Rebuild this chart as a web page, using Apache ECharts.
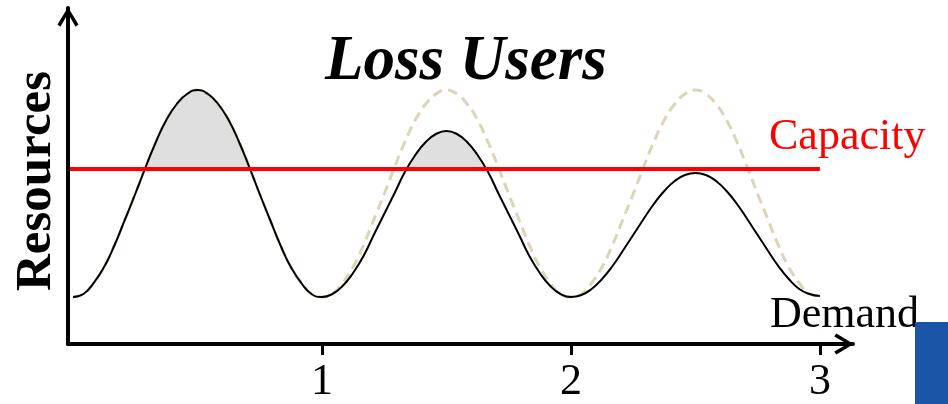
<!DOCTYPE html>
<html>
<head>
<meta charset="utf-8">
<script src="https://cdn.jsdelivr.net/npm/echarts@6/dist/echarts.min.js"></script>
<style>
html,body{margin:0;padding:0;background:#fff;}
#chart{width:948px;height:404px;}
</style>
</head>
<body>
<div id="chart"></div>
<script>
// time (x) positions of the sampled points
var times = [0,0.042,0.083,0.125,0.167,0.208,0.25,0.292,0.333,0.375,0.417,0.458,
             0.5,0.542,0.583,0.625,0.667,0.708,0.75,0.792,0.833,0.875,0.917,0.958,
             1,1.042,1.083,1.125,1.167,1.208,1.25,1.292,1.333,1.375,1.417,1.458,
             1.5,1.542,1.583,1.625,1.667,1.708,1.75,1.792,1.833,1.875,1.917,1.958,
             2,2.042,2.083,2.125,2.167,2.208,2.25,2.292,2.333,2.375,2.417,2.458,
             2.5,2.542,2.583,2.625,2.667,2.708,2.75,2.792,2.833,2.875,2.917,2.958,3];
// actual (served) demand - black solid curve
var demand = [47,50,61,77,99,124,150,177,202,224,240,250,
              254,250,240,224,202,177,150,124,99,77,61,50,
              47,50,58,71,88,109,130,151,172,189,202,210,
              213,210,202,189,172,151,130,109,88,71,58,50,
              47,49,55,65,78,93,109,125,140,153,163,169,
              171,169,163,153,140,125,109,93,78,65,55,50,48];
// original (requested) demand - dashed curve
var originalDemand = [47,50,61,77,99,124,150,177,202,224,240,250,
                      254,250,240,224,202,177,150,124,99,77,61,50,
                      47,50,61,77,99,124,150,177,202,224,240,250,
                      254,250,240,224,202,177,150,124,99,77,61,50,
                      47,50,61,77,99,124,150,177,202,224,240,250,
                      254,250,240,224,202,177,150,124,99,77,61,50,48];
// provisioned capacity
var capacityTimes = [-0.015, 3.0];
var capacity = [175, 175];
var xTickValues = [1, 2, 3];
var xTickLabels = ['1', '2', '3'];

function pairs(xs, ys) { return xs.map(function (x, i) { return [x, ys[i]]; }); }

var serif = '"Liberation Serif", "Times New Roman", Times, serif';
// open chevron arrow (pointing up in its own box)
var chevron = 'path://M10,0 L20,16.5 L17.2,18.5 L10,6 L2.8,18.5 L0,16.5 Z';

var chart = echarts.init(document.getElementById('chart'));
chart.setOption({
  animation: false,
  backgroundColor: '#ffffff',
  title: [
    { text: 'Loss Users', left: 320, top: 26,
      textStyle: { fontFamily: serif, fontSize: 63, fontWeight: 'bold', fontStyle: 'italic', color: '#000' } },
    { text: 'Capacity', left: 764, top: 110,
      textStyle: { fontFamily: serif, fontSize: 44, fontWeight: 'normal', color: '#ff0000' } },
    { text: 'Demand', left: 765, top: 288,
      textStyle: { fontFamily: serif, fontSize: 44, fontWeight: 'normal', color: '#000' } }
  ],
  grid: { left: 68, right: 95, top: 8, bottom: 60, containLabel: false },
  xAxis: {
    type: 'value', min: -0.02, max: 3.133, z: 10,
    splitLine: { show: false },
    axisLine: { show: true, onZero: false,
      lineStyle: { color: '#000', width: 4 },
      symbol: ['none', chevron], symbolSize: [21, 20], symbolOffset: [0, -9] },
    axisTick: { show: true, inside: false, length: 11, customValues: xTickValues,
      lineStyle: { color: '#000', width: 3 } },
    axisLabel: { show: true, customValues: xTickValues, margin: 16,
      fontFamily: serif, fontSize: 44, color: '#000',
      formatter: function (v) { var i = xTickValues.indexOf(v); return i >= 0 ? xTickLabels[i] : ''; } }
  },
  yAxis: {
    type: 'value', min: 0, max: 336, z: 10,
    name: 'Resources', nameLocation: 'middle', nameRotate: 90, nameGap: 6,
    nameTextStyle: { fontFamily: serif, fontSize: 51, fontWeight: 'bold', color: '#000', padding: [0, 10, 0, 0] },
    splitLine: { show: false },
    axisLine: { show: true, onZero: false,
      lineStyle: { color: '#000', width: 4 },
      symbol: ['none', chevron], symbolSize: [21, 20], symbolOffset: [0, -9] },
    axisTick: { show: false },
    axisLabel: { show: false }
  },
  graphic: [
    { type: 'rect', right: 0, bottom: 0, z: 20,
      shape: { width: 33, height: 82 }, style: { fill: '#1a55a8' } }
  ],
  series: [
    { // gray area under the demand curve (only the part above capacity remains visible)
      name: 'excessFill', type: 'line', z: 1, smooth: true, symbol: 'none', silent: true,
      data: pairs(times, demand),
      lineStyle: { width: 0, opacity: 0 },
      areaStyle: { color: '#dfdfdf', opacity: 1 }
    },
    { // white cover below the capacity line
      name: 'cover', type: 'line', z: 2, symbol: 'none', silent: true,
      data: pairs(capacityTimes, capacity),
      lineStyle: { width: 0, opacity: 0 },
      areaStyle: { color: '#ffffff', opacity: 1 }
    },
    {
      name: 'Original demand', type: 'line', z: 3, smooth: true, symbol: 'none',
      data: pairs(times, originalDemand),
      lineStyle: { color: '#dcd4ba', width: 3, type: [10, 6] }
    },
    {
      name: 'Demand', type: 'line', z: 4, smooth: true, symbol: 'none',
      data: pairs(times, demand),
      lineStyle: { color: '#000', width: 2 }
    },
    {
      name: 'Capacity', type: 'line', z: 5, symbol: 'none',
      data: pairs(capacityTimes, capacity),
      lineStyle: { color: '#ff0000', width: 4 }
    }
  ]
});
</script>
</body>
</html>
